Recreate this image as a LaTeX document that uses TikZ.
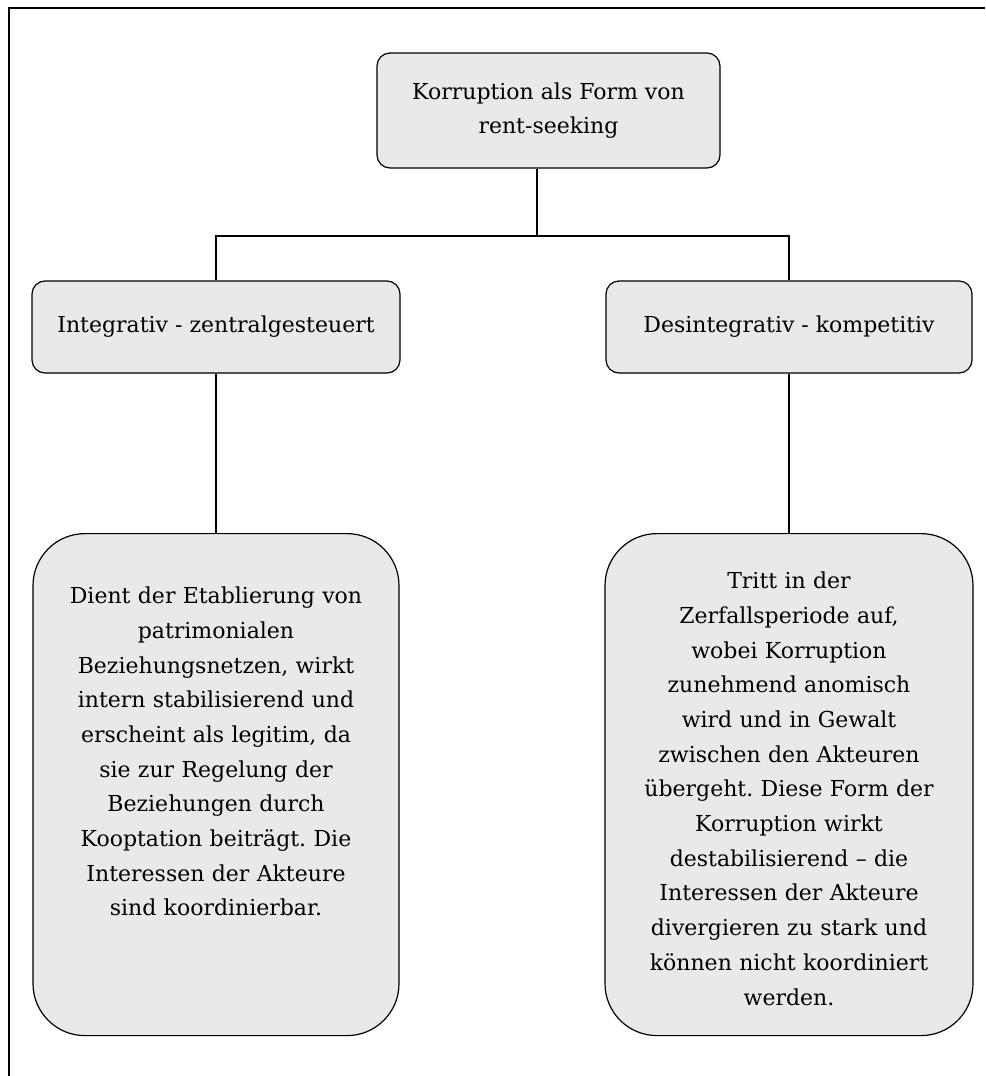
\documentclass[tikz,border=0pt]{standalone}
\usepackage{fontspec}
\setmainfont{DejaVu Serif}
\usetikzlibrary{calc}
\definecolor{boxgray}{HTML}{E9E9E9}
\frenchspacing

\begin{document}
\begin{tikzpicture}[x=1pt,y=-1pt,line width=1.2pt,every node/.style={draw,fill=boxgray,align=center,inner sep=0pt,font=\fontsize{22}{34.7}\selectfont},head/.style={rounded corners=13pt},body/.style={rounded corners=52pt,anchor=north,text width=350pt}
]
\useasboundingbox (0,0) rectangle (985,1076);
\draw[line width=2pt] (9,1076) -- (9,7.5) -- (985,7.5);

\node[head,minimum width=343pt,minimum height=115pt] (root) at (548.5,110.5) {Korruption als Form von\\rent-seeking};
\node[head,minimum width=368pt,minimum height=92pt] (integ) at (216,327) {Integrativ - zentralgesteuert};
\node[head,minimum width=366pt,minimum height=92pt] (desint) at (789,327) {Desintegrativ - kompetitiv};
\node[body,minimum width=366pt,text height=70pt,text depth=432pt] (integtext) at (216,533) {Dient der Etablierung von\\patrimonialen\\Beziehungsnetzen, wirkt\\intern stabilisierend und\\erscheint als legitim, da\\sie zur Regelung der\\Beziehungen durch\\Kooptation beiträgt. Die\\Interessen der Akteure\\sind koordinierbar.};
\node[body,minimum width=368pt,text height=55pt,text depth=447pt] (desinttext) at (789,533) {Tritt in der\\Zerfallsperiode auf,\\wobei Korruption\\zunehmend anomisch\\wird und in Gewalt\\zwischen den Akteuren\\übergeht. Diese Form der\\Korruption wirkt\\destabilisierend – die\\Interessen der Akteure\\divergieren zu stark und\\können nicht koordiniert\\werden.};

\coordinate (fork) at (537,236);
\draw ([xshift=-11.5pt]root.south) -- (fork);
\draw (integ.north) |- (fork) -| (desint.north);
\draw (integ.south) -- (integtext.north);
\draw (desint.south) -- (desinttext.north);
\end{tikzpicture}
\end{document}
